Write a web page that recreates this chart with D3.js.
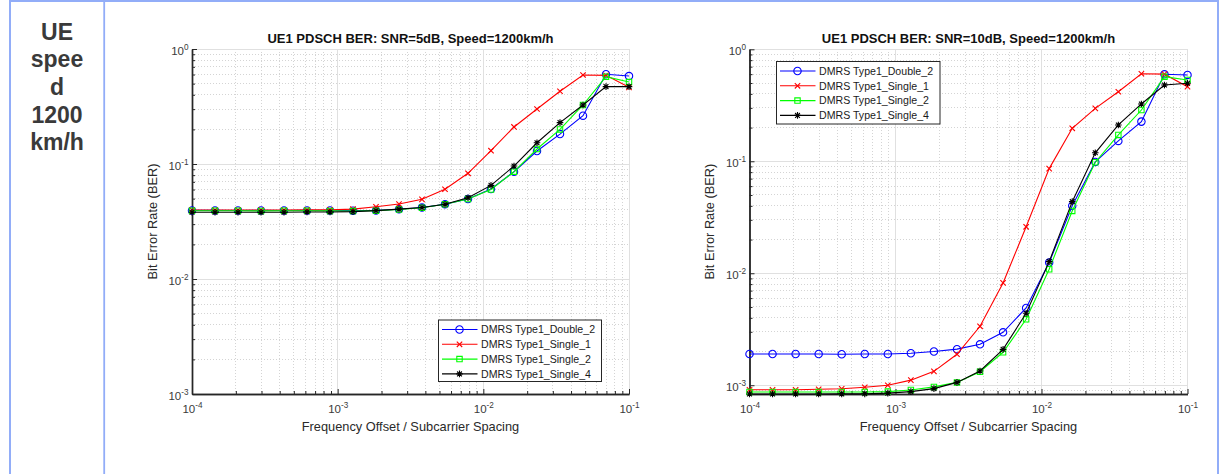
<!DOCTYPE html>
<html>
<head>
<meta charset="utf-8">
<script src="https://cdn.jsdelivr.net/npm/d3@7"></script>
<style>
  html, body { margin: 0; padding: 0; background: #fff; }
  svg { display: block; font-family: "Liberation Sans", Arial, Helvetica, sans-serif; }
</style>
</head>
<body>
<svg id="page" width="1220" height="474"></svg>
<script>
// ---- data ---------------------------------------------------------------
// Normalised frequency offset (20 log-spaced points, 1e-4 .. 1e-1)
const freqOffset = [
  1.0000e-4, 1.4384e-4, 2.0691e-4, 2.9764e-4, 4.2813e-4,
  6.1585e-4, 8.8587e-4, 1.2743e-3, 1.8330e-3, 2.6367e-3,
  3.7927e-3, 5.4556e-3, 7.8476e-3, 1.1288e-2, 1.6238e-2,
  2.3357e-2, 3.3598e-2, 4.8329e-2, 6.9519e-2, 1.0000e-1
];

const seriesNames = ["DMRS Type1_Double_2", "DMRS Type1_Single_1", "DMRS Type1_Single_2", "DMRS Type1_Single_4"];
const seriesColors = ["#0000ff", "#ff0000", "#00ff00", "#000000"];
const seriesMarkers = ["circle", "x", "square", "star"];

// SNR = 5 dB
const ber5_double2 = [0.0395, 0.0395, 0.0394, 0.0395, 0.0394, 0.0395, 0.0394, 0.0393, 0.0395, 0.0404,
                      0.0418, 0.0446, 0.0496, 0.0606, 0.0857, 0.1297, 0.182, 0.263, 0.603, 0.582];
const ber5_single1 = [0.0398, 0.0398, 0.0398, 0.0398, 0.0398, 0.0399, 0.0399, 0.0405, 0.0425, 0.0449,
                      0.0493, 0.0603, 0.083, 0.1305, 0.21, 0.301, 0.429, 0.594, 0.590, 0.464];
const ber5_single2 = [0.0392, 0.0392, 0.0392, 0.0391, 0.0392, 0.0392, 0.0391, 0.0390, 0.0393, 0.0402,
                      0.0417, 0.0446, 0.0496, 0.0600, 0.0857, 0.135, 0.200, 0.326, 0.574, 0.516];
const ber5_single4 = [0.0381, 0.0381, 0.0381, 0.0381, 0.0381, 0.0382, 0.0382, 0.0385, 0.0393, 0.0405,
                      0.0418, 0.0446, 0.0509, 0.0652, 0.096, 0.153, 0.229, 0.326, 0.471, 0.471];

// SNR = 10 dB
const ber10_double2 = [0.00190, 0.00190, 0.00190, 0.00190, 0.00189, 0.00190, 0.00190, 0.00193, 0.00200, 0.00210,
                       0.00232, 0.00297, 0.0049, 0.01245, 0.040, 0.0986, 0.152, 0.226, 0.598, 0.590];
const ber10_single1 = [0.00091, 0.00091, 0.00091, 0.00092, 0.00093, 0.00096, 0.00100, 0.00111, 0.00133, 0.00189,
                       0.00336, 0.0082, 0.026, 0.0860, 0.197, 0.297, 0.418, 0.605, 0.600, 0.464];
const ber10_single2 = [0.00087, 0.00087, 0.00087, 0.00087, 0.00087, 0.00087, 0.000877, 0.000908, 0.000966, 0.00106,
                       0.00132, 0.00197, 0.00388, 0.01086, 0.036, 0.098, 0.172, 0.287, 0.570, 0.532];
const ber10_single4 = [0.000836, 0.000836, 0.000836, 0.000836, 0.000837, 0.000838, 0.00085, 0.000877, 0.000933, 0.00106,
                       0.00134, 0.00209, 0.0044, 0.0127, 0.0436, 0.119, 0.211, 0.325, 0.480, 0.497];

const xDecades = [1e-4, 1e-3, 1e-2, 1e-1];
const cellLabelLines = ["UE", "spee", "d", "1200", "km/h"];
const xAxisTitle = "Frequency Offset / Subcarrier Spacing";
const yAxisTitle = "Bit Error Rate (BER)";

// ---- layout ---------------------------------------------------------------
const panels = [
  {
    title: "UE1 PDSCH BER: SNR=5dB, Speed=1200km/h",
    series: [ber5_double2, ber5_single1, ber5_single2, ber5_single4],
    yDomain: [1e-3, 1], yDecades: [1e-3, 1e-2, 1e-1, 1],
    left: 192, right: 629, top: 49, bottom: 394,
    yLabelX: 157,
    legend: { x: 438.5, y: 320, w: 163, h: 61.5 }
  },
  {
    title: "UE1 PDSCH BER: SNR=10dB, Speed=1200km/h",
    series: [ber10_double2, ber10_single1, ber10_single2, ber10_single4],
    yDomain: [8.35e-4, 1], yDecades: [1e-3, 1e-2, 1e-1, 1],
    left: 749.5, right: 1187.5, top: 49.3, bottom: 394,
    yLabelX: 714,
    legend: { x: 776.5, y: 61.5, w: 163.5, h: 62.5 }
  }
];

const svg = d3.select("#page");
svg.append("rect").attr("width", 1220).attr("height", 474).attr("fill", "#fff");

// ---- table frame ----------------------------------------------------------
const frameColor = "#92adf8";
const frame = svg.append("g").attr("stroke", frameColor).attr("fill", "none");
frame.append("line").attr("x1", 9).attr("x2", 1219).attr("y1", 1).attr("y2", 1).attr("stroke-width", 2);
frame.append("line").attr("x1", 10).attr("x2", 10).attr("y1", 0).attr("y2", 474).attr("stroke-width", 2);
frame.append("line").attr("x1", 104.2).attr("x2", 104.2).attr("y1", 0).attr("y2", 474).attr("stroke-width", 1.8);
frame.append("line").attr("x1", 1218).attr("x2", 1218).attr("y1", 0).attr("y2", 474).attr("stroke-width", 2);

// row header
svg.append("g").selectAll("text").data(cellLabelLines).join("text")
  .attr("x", 57).attr("y", (d, i) => 39.5 + i * 27.7)
  .attr("text-anchor", "middle")
  .attr("font-size", 23).attr("font-weight", "bold").attr("fill", "#3a3a3a")
  .text(d => d);

// ---- marker shapes --------------------------------------------------------
function markerPath(type) {
  const p = d3.path();
  if (type === "circle") {
    p.moveTo(3.7, 0); p.arc(0, 0, 3.7, 0, 2 * Math.PI);
  } else if (type === "square") {
    p.rect(-2.7, -2.7, 5.4, 5.4);
  } else if (type === "x") {
    const s = 2.7;
    p.moveTo(-s, -s); p.lineTo(s, s); p.moveTo(-s, s); p.lineTo(s, -s);
  } else if (type === "star") {
    const s = 3.3, d = 2.4;
    p.moveTo(-s, 0); p.lineTo(s, 0); p.moveTo(0, -s); p.lineTo(0, s);
    p.moveTo(-d, -d); p.lineTo(d, d); p.moveTo(-d, d); p.lineTo(d, -d);
  }
  return p.toString();
}

function powerLabel(sel) {
  sel.each(function (d) {
    const t = d3.select(this);
    t.text(null);
    t.append("tspan").text("10");
    t.append("tspan").attr("dy", -5).attr("font-size", 8.2).text(String(Math.round(Math.log10(d))));
  });
}

// ---- panels ---------------------------------------------------------------
panels.forEach(cfg => {
  const x = d3.scaleLog().domain([1e-4, 1e-1]).range([cfg.left, cfg.right]);
  const y = d3.scaleLog().domain(cfg.yDomain).range([cfg.bottom, cfg.top]);
  const g = svg.append("g");

  const xMinor = x.ticks().filter(v => !xDecades.some(dv => Math.abs(v / dv - 1) < 1e-6));
  const yMinor = y.ticks().filter(v => !cfg.yDecades.some(dv => Math.abs(v / dv - 1) < 1e-6));

  // minor grid (dotted)
  const grid = g.append("g").attr("fill", "none").attr("shape-rendering", "crispEdges");
  grid.selectAll("line.xm").data(xMinor).join("line").attr("class", "xm")
    .attr("x1", d => x(d)).attr("x2", d => x(d)).attr("y1", cfg.top).attr("y2", cfg.bottom)
    .attr("stroke", "#d4d4d4").attr("stroke-dasharray", "1,2");
  grid.selectAll("line.ym").data(yMinor).join("line").attr("class", "ym")
    .attr("y1", d => y(d)).attr("y2", d => y(d)).attr("x1", cfg.left).attr("x2", cfg.right)
    .attr("stroke", "#d4d4d4").attr("stroke-dasharray", "1,2");
  // major grid (solid)
  grid.selectAll("line.xM").data(xDecades).join("line").attr("class", "xM")
    .attr("x1", d => x(d)).attr("x2", d => x(d)).attr("y1", cfg.top).attr("y2", cfg.bottom)
    .attr("stroke", "#e0e0e0");
  grid.selectAll("line.yM").data(cfg.yDecades).join("line").attr("class", "yM")
    .attr("y1", d => y(d)).attr("y2", d => y(d)).attr("x1", cfg.left).attr("x2", cfg.right)
    .attr("stroke", "#e0e0e0");

  // axes
  const axisColor = "#262626";
  const gxMinor = g.append("g").attr("transform", `translate(0,${cfg.bottom})`)
    .call(d3.axisBottom(x).tickValues(xMinor).tickSizeInner(-3).tickSizeOuter(0).tickFormat(() => ""));
  const gyMinor = g.append("g").attr("transform", `translate(${cfg.left},0)`)
    .call(d3.axisLeft(y).tickValues(yMinor).tickSizeInner(-3).tickSizeOuter(0).tickFormat(() => ""));
  const gx = g.append("g").attr("transform", `translate(0,${cfg.bottom})`)
    .call(d3.axisBottom(x).tickValues(xDecades).tickSizeInner(-5).tickSizeOuter(0));
  const gy = g.append("g").attr("transform", `translate(${cfg.left},0)`)
    .call(d3.axisLeft(y).tickValues(cfg.yDecades).tickSizeInner(-5).tickSizeOuter(0));

  [gxMinor, gyMinor, gx, gy].forEach(a => {
    a.selectAll("path.domain").attr("stroke", axisColor).attr("stroke-width", 1.4);
    a.selectAll(".tick line").attr("stroke", axisColor);
  });
  gx.selectAll(".tick text")
    .attr("y", 19.3).attr("dy", 0)
    .attr("font-size", 11.5).attr("fill", "#3a3a3a")
    .attr("font-family", "'Liberation Sans', Arial, sans-serif")
    .call(powerLabel);
  gy.selectAll(".tick text")
    .attr("x", -3.5).attr("dy", 0).attr("y", 5.5)
    .attr("font-size", 11.5).attr("fill", "#3a3a3a")
    .attr("font-family", "'Liberation Sans', Arial, sans-serif")
    .call(powerLabel);

  // titles
  g.append("text").attr("x", (cfg.left + cfg.right) / 2).attr("y", 43)
    .attr("text-anchor", "middle").attr("font-size", 13).attr("font-weight", "bold").attr("fill", "#111")
    .text(cfg.title);
  g.append("text").attr("x", (cfg.left + cfg.right) / 2).attr("y", 431)
    .attr("text-anchor", "middle").attr("font-size", 12.8).attr("fill", "#2a2a2a")
    .text(xAxisTitle);
  g.append("text")
    .attr("transform", `translate(${cfg.yLabelX},${(cfg.top + cfg.bottom) / 2}) rotate(-90)`)
    .attr("text-anchor", "middle").attr("font-size", 12.8).attr("fill", "#2a2a2a")
    .text(yAxisTitle);

  // series
  const line = d3.line().x((d, i) => x(freqOffset[i])).y(d => y(d));
  cfg.series.forEach((vals, si) => {
    const sg = g.append("g");
    sg.append("path").attr("d", line(vals)).attr("fill", "none")
      .attr("stroke", seriesColors[si]).attr("stroke-width", 1.1);
    sg.selectAll("path.mk").data(vals).join("path").attr("class", "mk")
      .attr("transform", (d, i) => `translate(${x(freqOffset[i])},${y(d)})`)
      .attr("d", markerPath(seriesMarkers[si]))
      .attr("fill", "none").attr("stroke", seriesColors[si]).attr("stroke-width", 1.1);
  });

  // legend
  const L = cfg.legend;
  const lg = g.append("g").attr("transform", `translate(${L.x},${L.y})`);
  lg.append("rect").attr("width", L.w).attr("height", L.h)
    .attr("fill", "#fff").attr("stroke", "#262626").attr("stroke-width", 1);
  seriesNames.forEach((name, si) => {
    const cy = 9.5 + si * 14.8;
    lg.append("line").attr("x1", 3.5).attr("x2", 39).attr("y1", cy).attr("y2", cy)
      .attr("stroke", seriesColors[si]).attr("stroke-width", 1.1);
    lg.append("path").attr("transform", `translate(21,${cy})`).attr("d", markerPath(seriesMarkers[si]))
      .attr("fill", "none").attr("stroke", seriesColors[si]).attr("stroke-width", 1.1);
    lg.append("text").attr("x", 42.5).attr("y", cy + 3.8)
      .attr("font-size", 10.6).attr("fill", "#1a1a1a").text(name);
  });
});
</script>
</body>
</html>
